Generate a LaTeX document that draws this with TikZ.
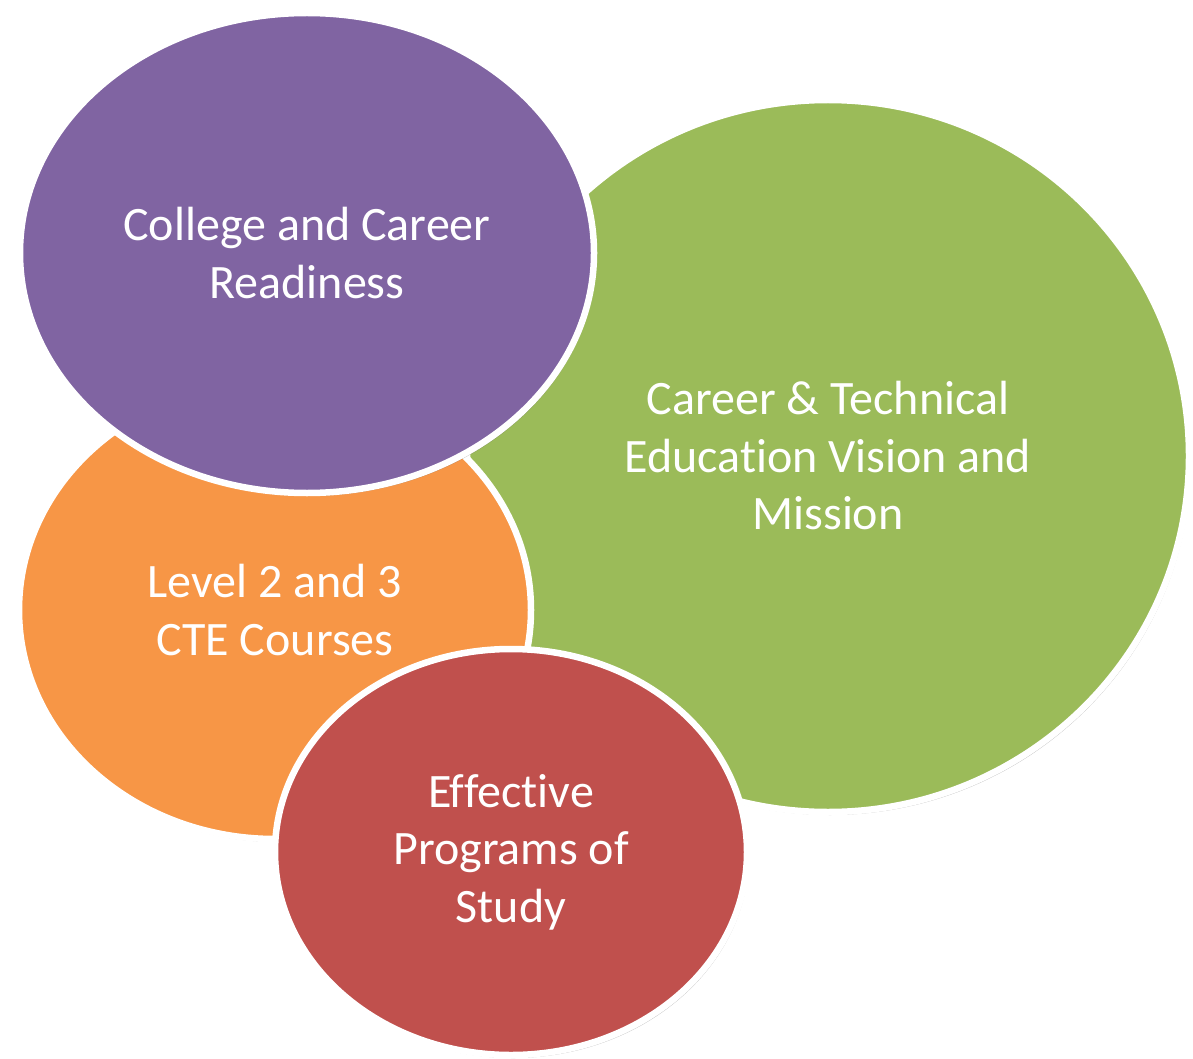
\documentclass[tikz,border=0pt]{standalone}
\usepackage{fontspec}
\setmainfont[Ligatures=NoCommon]{Carlito}
\usetikzlibrary{shapes.geometric,shadows}
\tikzset{
  bubble/.style={ellipse, draw=white, line width=6.5pt, inner sep=0pt, text=white, align=center,
    font=\fontsize{48}{57.5}\selectfont,
    drop shadow={shadow xshift=2pt, shadow yshift=-3pt, opacity=0.35, fill=black!70}},
}
\definecolor{cgreen}{HTML}{9BBB59}
\definecolor{cpurple}{HTML}{8064A2}
\definecolor{corange}{HTML}{F79646}
\definecolor{cred}{HTML}{C0504D}
\begin{document}
\begin{tikzpicture}[x=1pt,y=-1pt]
\useasboundingbox[fill=white] (0,0) rectangle (1193,1059);
\node[bubble, fill=cgreen, minimum width=722pt, minimum height=712pt] (green) at (828,456)
  {Career \& Technical\\Education Vision and\\Mission};
\node[bubble, fill=corange, minimum width=512pt, minimum height=458pt] (orange) at (275,610)
  {Level 2 and 3\\CTE Courses};
\node[bubble, fill=cpurple, minimum width=574pt, minimum height=480pt] (purple) at (307,253)
  {College and Career\\Readiness};
\node[bubble, fill=cred, minimum width=472pt, minimum height=406pt] (red) at (511,852)
  {Effective\\Programs of\\Study};
\end{tikzpicture}
\end{document}
